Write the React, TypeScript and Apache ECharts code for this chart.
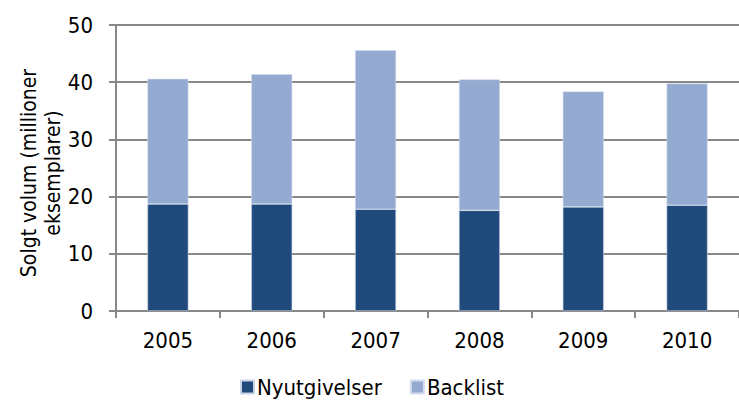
import React, { useEffect, useRef } from "react";
import * as echarts from "echarts";

const years = ["2005", "2006", "2007", "2008", "2009", "2010"];
const nyutgivelser = [18.7, 18.7, 17.8, 17.6, 18.2, 18.5];
const backlist = [21.9, 22.7, 27.8, 22.9, 20.2, 21.3];
const yTicks = { min: 0, max: 50, interval: 10 };

const FONT = "'DejaVu Sans Condensed', 'Liberation Sans Narrow', 'DejaVu Sans', sans-serif";

export default function App() {
  const ref = useRef<HTMLDivElement>(null);
  useEffect(() => {
    document.body.style.margin = "0";
    const chart = echarts.init(ref.current!, null, { renderer: "svg" });
    chart.setOption({
      animation: false,
      textStyle: { fontFamily: FONT, color: "#000" },
      grid: { left: 116, top: 25, width: 628, height: 286 },
      legend: {
        top: 371,
        left: 235,
        itemWidth: 13,
        itemHeight: 13,
        itemGap: 28,
        icon: "rect",
        textStyle: { fontFamily: FONT, fontSize: 22, color: "#000", padding: [0, 0, 0, -2], lineHeight: 22 },
        data: ["Nyutgivelser", "Backlist"],
      },
      xAxis: {
        type: "category",
        data: years,
        axisLine: { lineStyle: { color: "#888888", width: 2 } },
        axisTick: { show: true, length: 7, lineStyle: { color: "#888888", width: 2 } },
        axisLabel: { fontFamily: FONT, fontSize: 22, color: "#000", margin: 18 },
      },
      yAxis: {
        type: "value",
        min: yTicks.min,
        max: yTicks.max,
        interval: yTicks.interval,
        name: "Solgt volum (millioner\neksemplarer)",
        nameLocation: "middle",
        nameGap: 51,
        nameMoveOverlap: false,
        nameTextStyle: { fontFamily: FONT, fontSize: 21, color: "#000", lineHeight: 24, padding: [0, 10, 0, 0] },
        axisLine: { show: true, lineStyle: { color: "#888888", width: 2 } },
        axisTick: { show: true, length: 7, lineStyle: { color: "#888888", width: 2 } },
        splitLine: { lineStyle: { color: "#888888", width: 2 } },
        axisLabel: { fontFamily: FONT, fontSize: 22, color: "#000", margin: 23 },
      },
      series: [
        {
          name: "Nyutgivelser",
          type: "bar",
          stack: "total",
          data: nyutgivelser,
          barWidth: 41,
          itemStyle: { color: "#214a7c", borderColor: "#c9d4e6", borderWidth: 0.6 },
        },
        {
          name: "Backlist",
          type: "bar",
          stack: "total",
          data: backlist,
          barWidth: 41,
          itemStyle: { color: "#95aad0", borderColor: "#d3ddee", borderWidth: 0.6 },
        },
      ],
    });
    return () => chart.dispose();
  }, []);
  return <div ref={ref} style={{ width: 739, height: 403 }} />;
}
